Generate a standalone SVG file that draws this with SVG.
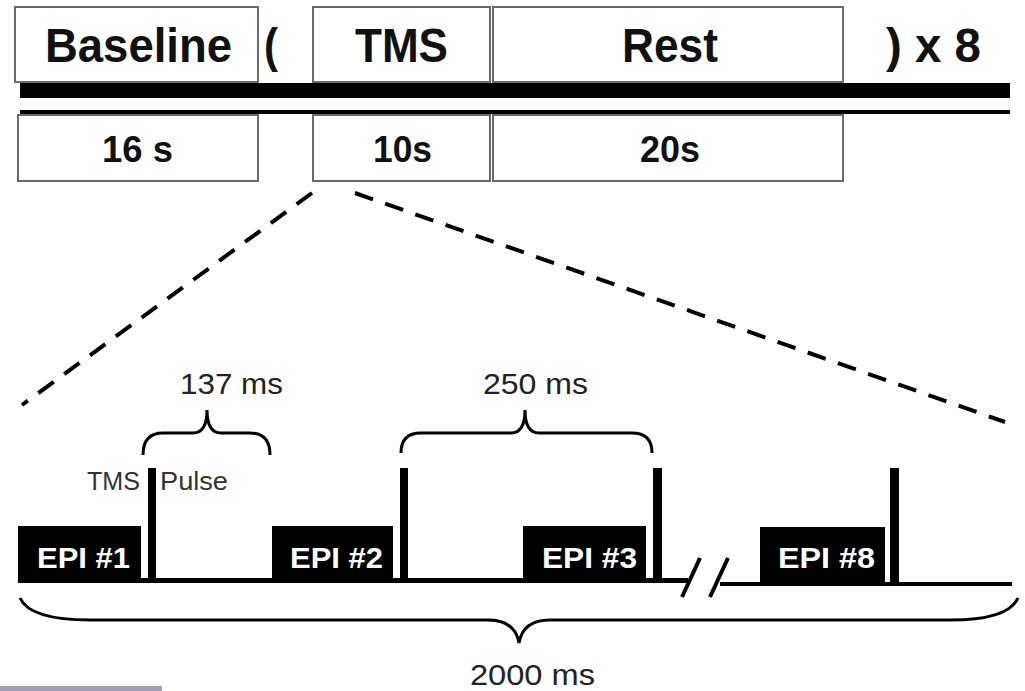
<svg xmlns="http://www.w3.org/2000/svg" width="1025" height="691" viewBox="0 0 1025 691">
<style>
.box{fill:#fff;stroke:#6a6a6a;stroke-width:2}
.big{font-family:"Liberation Sans",Arial,sans-serif;font-weight:bold;font-size:48px;fill:#111}
.mid{font-family:"Liberation Sans",Arial,sans-serif;font-weight:bold;font-size:36px;fill:#111}
.lab{font-family:"Liberation Sans",Arial,sans-serif;font-size:30px;fill:#222}
.sm{font-family:"Liberation Sans",Arial,sans-serif;font-size:25px;fill:#333}
.epi{fill:#000}
.epit{font-family:"Liberation Sans",Arial,sans-serif;font-weight:bold;font-size:30px;fill:#fff}
.dash{stroke:#000;stroke-width:4;stroke-dasharray:19 13;fill:none}
.brace{stroke:#000;stroke-width:3;fill:none}
.line{stroke:#000;fill:none}
</style>
<rect width="1025" height="691" fill="#fff"/>
<g id="top-row">
  <g id="baseline-block">
    <rect class="box" x="15" y="7" width="243" height="75"/>
    <text class="big" x="45" y="62" textLength="187" lengthAdjust="spacingAndGlyphs">Baseline</text>
  </g>
  <text class="big" x="264" y="62" textLength="14" lengthAdjust="spacingAndGlyphs">(</text>
  <g id="tms-block">
    <rect class="box" x="313" y="7" width="177" height="75"/>
    <text class="big" x="355" y="62" textLength="93" lengthAdjust="spacingAndGlyphs">TMS</text>
  </g>
  <g id="rest-block">
    <rect class="box" x="493" y="7" width="350" height="75"/>
    <text class="big" x="622" y="62" textLength="96" lengthAdjust="spacingAndGlyphs">Rest</text>
  </g>
  <text class="big" x="886" y="62" textLength="95" lengthAdjust="spacingAndGlyphs">) x 8</text>
</g>
<rect x="20" y="83" width="990" height="15" fill="#000"/>
<rect x="20" y="110" width="990" height="4" fill="#000"/>
<g id="durations">
  <g id="dur-baseline">
    <rect class="box" x="18" y="115" width="240" height="66"/>
    <text class="mid" x="102" y="162" textLength="71" lengthAdjust="spacingAndGlyphs">16 s</text>
  </g>
  <g id="dur-tms">
    <rect class="box" x="313" y="115" width="177" height="66"/>
    <text class="mid" x="373" y="162" textLength="59" lengthAdjust="spacingAndGlyphs">10s</text>
  </g>
  <g id="dur-rest">
    <rect class="box" x="493" y="115" width="350" height="66"/>
    <text class="mid" x="640" y="162" textLength="60" lengthAdjust="spacingAndGlyphs">20s</text>
  </g>
</g>
<g id="connectors">
  <line class="dash" x1="312" y1="193" x2="22" y2="405"/>
  <line class="dash" x1="355" y1="193" x2="1005" y2="422"/>
</g>
<g id="timeline">
  <line class="line" x1="18" y1="580.5" x2="688" y2="580.5" stroke-width="5"/>
  <line class="line" x1="720" y1="584" x2="1012" y2="584" stroke-width="4"/>
  <line class="line" x1="682" y1="597" x2="700" y2="558" stroke-width="4"/>
  <line class="line" x1="710" y1="597" x2="728" y2="558" stroke-width="4"/>
</g>
<g id="epi1">
  <rect class="epi" x="18" y="526" width="123" height="57"/>
  <text class="epit" x="37" y="568" textLength="93" lengthAdjust="spacingAndGlyphs">EPI #1</text>
</g>
<g id="epi2">
  <rect class="epi" x="272" y="526" width="121" height="57"/>
  <text class="epit" x="290" y="568" textLength="93" lengthAdjust="spacingAndGlyphs">EPI #2</text>
</g>
<g id="epi3">
  <rect class="epi" x="523" y="526" width="123" height="57"/>
  <text class="epit" x="542" y="568" textLength="95" lengthAdjust="spacingAndGlyphs">EPI #3</text>
</g>
<g id="epi8">
  <rect class="epi" x="760" y="527" width="125" height="57"/>
  <text class="epit" x="778" y="568" textLength="97" lengthAdjust="spacingAndGlyphs">EPI #8</text>
</g>
<g id="pulses">
  <rect x="148" y="468" width="8" height="115" fill="#000"/>
  <rect x="400" y="468" width="8" height="115" fill="#000"/>
  <rect x="653" y="468" width="9" height="115" fill="#000"/>
  <rect x="890" y="468" width="9" height="116" fill="#000"/>
</g>
<g id="pulse-label">
  <text class="sm" x="87" y="490" textLength="53" lengthAdjust="spacingAndGlyphs">TMS</text>
  <text class="sm" x="160" y="490" textLength="68" lengthAdjust="spacingAndGlyphs">Pulse</text>
</g>
<g id="brace-137">
  <path class="brace" d="M143,455 Q143,433 163,433 L193,433 Q207,433 207,410 Q207,433 221,433 L250,433 Q270,433 270,455"/>
  <text class="lab" x="180" y="394" textLength="103" lengthAdjust="spacingAndGlyphs">137 ms</text>
</g>
<g id="brace-250">
  <path class="brace" d="M401,453 Q401,433 421,433 L511,433 Q525,433 525,410 Q525,433 539,433 L632,433 Q652,433 652,453"/>
  <text class="lab" x="483" y="394" textLength="105" lengthAdjust="spacingAndGlyphs">250 ms</text>
</g>
<g id="brace-2000">
  <path class="brace" d="M20,598 Q30,620 90,620 L488,620 Q515,620 519,643 Q523,620 550,620 L950,620 Q1008,620 1018,598"/>
  <text class="lab" x="470" y="685" textLength="125" lengthAdjust="spacingAndGlyphs">2000 ms</text>
</g>
<rect x="0" y="686" width="162" height="5" fill="#a09eb5"/>
</svg>
